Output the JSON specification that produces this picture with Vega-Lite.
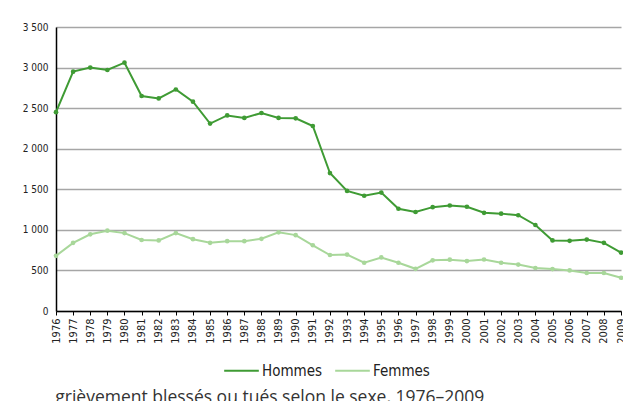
{
  "$schema": "https://vega.github.io/schema/vega-lite/v6.json",
  "autosize": "none",
  "width": 565,
  "height": 284,
  "padding": {"left": 56, "top": 27, "right": 2, "bottom": 90},
  "background": "#ffffff",
  "config": {
    "view": {"stroke": null},
    "locale": {"number": {"decimal": ",", "thousands": " ", "grouping": [3], "currency": ["", " €"]}},
    "font": "DejaVu Sans Condensed"
  },
  "title": {
    "text": "grièvement blessés ou tués selon le sexe, 1976–2009",
    "orient": "bottom",
    "anchor": "start",
    "dx": 33,
    "offset": 10,
    "font": "Open Sans",
    "fontSize": 17.5,
    "fontWeight": "normal",
    "color": "#333333"
  },
  "data": {
    "values": [
      {"annee": "1976", "sexe": "Hommes", "v": 2450}, {"annee": "1977", "sexe": "Hommes", "v": 2950},
      {"annee": "1978", "sexe": "Hommes", "v": 3000}, {"annee": "1979", "sexe": "Hommes", "v": 2970},
      {"annee": "1980", "sexe": "Hommes", "v": 3060}, {"annee": "1981", "sexe": "Hommes", "v": 2650},
      {"annee": "1982", "sexe": "Hommes", "v": 2620}, {"annee": "1983", "sexe": "Hommes", "v": 2730},
      {"annee": "1984", "sexe": "Hommes", "v": 2580}, {"annee": "1985", "sexe": "Hommes", "v": 2310},
      {"annee": "1986", "sexe": "Hommes", "v": 2410}, {"annee": "1987", "sexe": "Hommes", "v": 2380},
      {"annee": "1988", "sexe": "Hommes", "v": 2440}, {"annee": "1989", "sexe": "Hommes", "v": 2380},
      {"annee": "1990", "sexe": "Hommes", "v": 2375}, {"annee": "1991", "sexe": "Hommes", "v": 2280},
      {"annee": "1992", "sexe": "Hommes", "v": 1700}, {"annee": "1993", "sexe": "Hommes", "v": 1480},
      {"annee": "1994", "sexe": "Hommes", "v": 1420}, {"annee": "1995", "sexe": "Hommes", "v": 1460},
      {"annee": "1996", "sexe": "Hommes", "v": 1260}, {"annee": "1997", "sexe": "Hommes", "v": 1220},
      {"annee": "1998", "sexe": "Hommes", "v": 1280}, {"annee": "1999", "sexe": "Hommes", "v": 1300},
      {"annee": "2000", "sexe": "Hommes", "v": 1285}, {"annee": "2001", "sexe": "Hommes", "v": 1210},
      {"annee": "2002", "sexe": "Hommes", "v": 1200}, {"annee": "2003", "sexe": "Hommes", "v": 1180},
      {"annee": "2004", "sexe": "Hommes", "v": 1060}, {"annee": "2005", "sexe": "Hommes", "v": 870},
      {"annee": "2006", "sexe": "Hommes", "v": 865}, {"annee": "2007", "sexe": "Hommes", "v": 880},
      {"annee": "2008", "sexe": "Hommes", "v": 840}, {"annee": "2009", "sexe": "Hommes", "v": 720},
      {"annee": "1976", "sexe": "Femmes", "v": 680}, {"annee": "1977", "sexe": "Femmes", "v": 840},
      {"annee": "1978", "sexe": "Femmes", "v": 945}, {"annee": "1979", "sexe": "Femmes", "v": 990},
      {"annee": "1980", "sexe": "Femmes", "v": 960}, {"annee": "1981", "sexe": "Femmes", "v": 875},
      {"annee": "1982", "sexe": "Femmes", "v": 870}, {"annee": "1983", "sexe": "Femmes", "v": 960},
      {"annee": "1984", "sexe": "Femmes", "v": 885}, {"annee": "1985", "sexe": "Femmes", "v": 840},
      {"annee": "1986", "sexe": "Femmes", "v": 860}, {"annee": "1987", "sexe": "Femmes", "v": 860},
      {"annee": "1988", "sexe": "Femmes", "v": 890}, {"annee": "1989", "sexe": "Femmes", "v": 970},
      {"annee": "1990", "sexe": "Femmes", "v": 935}, {"annee": "1991", "sexe": "Femmes", "v": 810},
      {"annee": "1992", "sexe": "Femmes", "v": 690}, {"annee": "1993", "sexe": "Femmes", "v": 695},
      {"annee": "1994", "sexe": "Femmes", "v": 595}, {"annee": "1995", "sexe": "Femmes", "v": 660},
      {"annee": "1996", "sexe": "Femmes", "v": 595}, {"annee": "1997", "sexe": "Femmes", "v": 520},
      {"annee": "1998", "sexe": "Femmes", "v": 625}, {"annee": "1999", "sexe": "Femmes", "v": 632},
      {"annee": "2000", "sexe": "Femmes", "v": 615}, {"annee": "2001", "sexe": "Femmes", "v": 635},
      {"annee": "2002", "sexe": "Femmes", "v": 595}, {"annee": "2003", "sexe": "Femmes", "v": 572},
      {"annee": "2004", "sexe": "Femmes", "v": 530}, {"annee": "2005", "sexe": "Femmes", "v": 517},
      {"annee": "2006", "sexe": "Femmes", "v": 500}, {"annee": "2007", "sexe": "Femmes", "v": 468},
      {"annee": "2008", "sexe": "Femmes", "v": 468}, {"annee": "2009", "sexe": "Femmes", "v": 410}
    ]
  },
  "mark": {"type": "line", "strokeWidth": 2, "point": {"filled": true, "size": 22}},
  "encoding": {
    "x": {
      "field": "annee", "type": "ordinal",
      "scale": {"type": "point", "padding": 0},
      "axis": {
        "title": null, "labelAngle": -90, "labelFontSize": 11, "labelColor": "#222222",
        "domainColor": "#000000", "domainWidth": 1.5, "tickColor": "#000000", "tickSize": 4,
        "labelPadding": 3, "grid": false
      }
    },
    "y": {
      "field": "v", "type": "quantitative",
      "scale": {"domain": [0, 3500], "nice": false},
      "axis": {
        "title": null, "values": [0, 500, 1000, 1500, 2000, 2500, 3000, 3500], "format": ",d",
        "labelFontSize": 10, "labelColor": "#222222", "domainColor": "#000000", "domainWidth": 1.5,
        "ticks": false, "labelPadding": 8, "gridColor": "#a6a6a6", "gridWidth": 1.5
      }
    },
    "color": {
      "field": "sexe", "type": "nominal",
      "scale": {"domain": ["Hommes", "Femmes"], "range": ["#3f9b34", "#a8d79a"]},
      "legend": {
        "title": null, "orient": "none", "legendX": 167, "legendY": 325, "direction": "horizontal",
        "symbolType": "stroke", "symbolSize": 1200, "symbolStrokeWidth": 2,
        "labelFontSize": 15, "labelColor": "#222222", "labelOffset": 2, "columnPadding": 8
      }
    }
  }
}
